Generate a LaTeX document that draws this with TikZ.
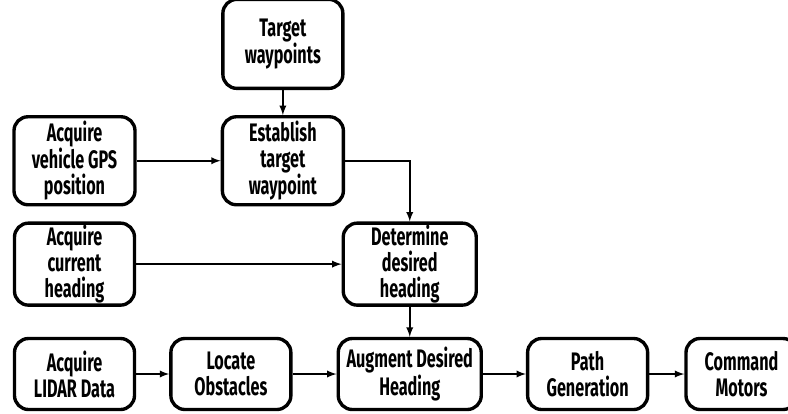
\documentclass[tikz,border=0pt]{standalone}
\usepackage{fontspec}
\setmainfont{Fira Sans}[FakeStretch=0.64]
\usepackage{tikz}
\usetikzlibrary{positioning}
\tikzset{block/.style={rectangle,rounded corners=.35cm,draw,line width=2.4pt,align=center,inner sep=0pt,font=\fontsize{18}{18.5}\selectfont\bfseries},
  >=latex}

\begin{document}
\begin{tikzpicture}
    \useasboundingbox (0,0) rectangle (19.7,-10.325);

    % bottom row
    \node[block,minimum width=3cm,minimum height=1.775cm] (1) at (1.8625,-9.35) {Acquire\\LIDAR Data};
    \node[block,minimum width=3cm,minimum height=1.775cm] (2) [right = .825cm of 1] {Locate\\Obstacles};
    \node[block,minimum width=3.575cm,minimum height=1.775cm] (3) [right = 1.1cm of 2] {Augment Desired\\Heading};
    \node[block,minimum width=3cm,minimum height=1.775cm] (4) [right = 1.075cm of 3] {Path\\Generation};
    \node[block,minimum width=2.775cm,minimum height=1.775cm] (5) [right = .875cm of 4] {Command\\Motors};

    % middle rows
    \node[block,minimum width=3cm,minimum height=2.05cm] (6) [above = .75cm of 1] {Acquire\\current\\heading};
    \node[block,minimum width=3.325cm,minimum height=2.05cm] (7) [above = .75cm of 3] {Determine\\desired\\heading};
    \node[block,minimum width=3.025cm,minimum height=2.2cm] (8) [above = .375cm of 6] {Acquire\\vehicle GPS\\position};
    \node[block,minimum width=3.025cm,minimum height=2.2cm] (9) [right = 2.1cm of 8] {Establish\\target\\waypoint};
    \node[block,minimum width=3cm,minimum height=2.225cm] (10) [above = .625cm of 9] {Target\\waypoints};

    \path[draw,->,line width=1.3pt]
    (10) edge node {} (9)
    (8) edge node {} (9)
    (6) edge node {} (7)
    (7) edge node {} (3)
    (1) edge node {} (2)
    (2) edge node {} (3)
    (3) edge node {} (4)
    (4) edge node {} (5)
    ;
    \draw[->,line width=1.3pt] (9) -| (7);
\end{tikzpicture}
\end{document}
